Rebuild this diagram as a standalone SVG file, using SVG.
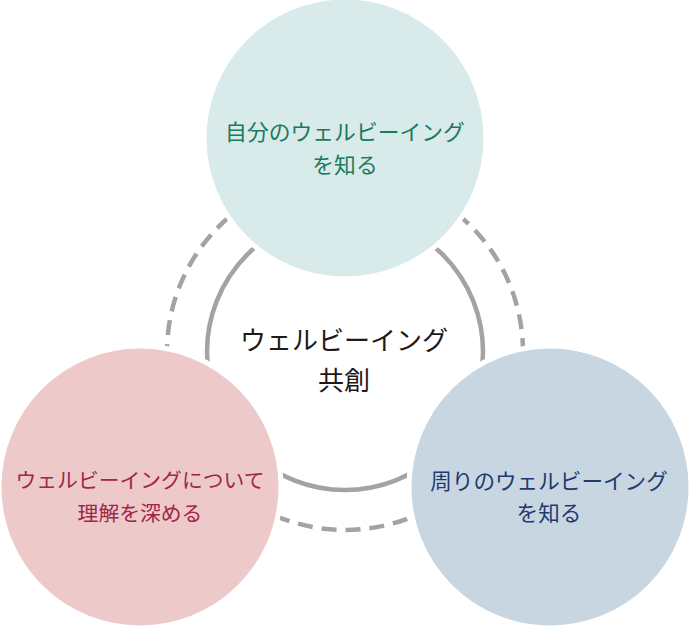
<svg xmlns="http://www.w3.org/2000/svg" width="690" height="627" viewBox="0 0 690 627">
<style>
text{font-family:"Noto Sans CJK JP","Noto Sans",sans-serif;text-anchor:middle}
.ring{fill:none;stroke:#a3a3a3;stroke-width:4.5}
.dash{stroke-dasharray:15 9}
.node{stroke:#fff;stroke-width:5}
</style>
<rect width="690" height="627" fill="#fff"/>
<g id="connectors">
<circle class="ring dash" cx="345" cy="352" r="178"/>
<circle class="ring" cx="345" cy="352" r="138"/>
</g>
<g id="center">
<text x="344" y="350" font-size="26" fill="#231815">ウェルビーイング</text>
<text x="344" y="390" font-size="26" fill="#231815">共創</text>
</g>
<g id="self">
<circle class="node" cx="345" cy="138" r="141" fill="#d8eaea"/>
<text x="345" y="140" font-size="21.8" fill="#1a7a5c">自分のウェルビーイング</text>
<text x="345" y="173" font-size="21.8" fill="#1a7a5c">を知る</text>
</g>
<g id="deepen">
<circle class="node" cx="140" cy="487" r="141" fill="#eec9c9"/>
<text x="140" y="488" font-size="20.8" fill="#a0264a">ウェルビーイングについて</text>
<text x="140" y="521" font-size="20.8" fill="#a0264a">理解を深める</text>
</g>
<g id="others">
<circle class="node" cx="550" cy="487" r="141" fill="#c8d6e2"/>
<text x="549" y="489" font-size="21.6" fill="#1e3a6e">周りのウェルビーイング</text>
<text x="549" y="521" font-size="21.6" fill="#1e3a6e">を知る</text>
</g>
</svg>
